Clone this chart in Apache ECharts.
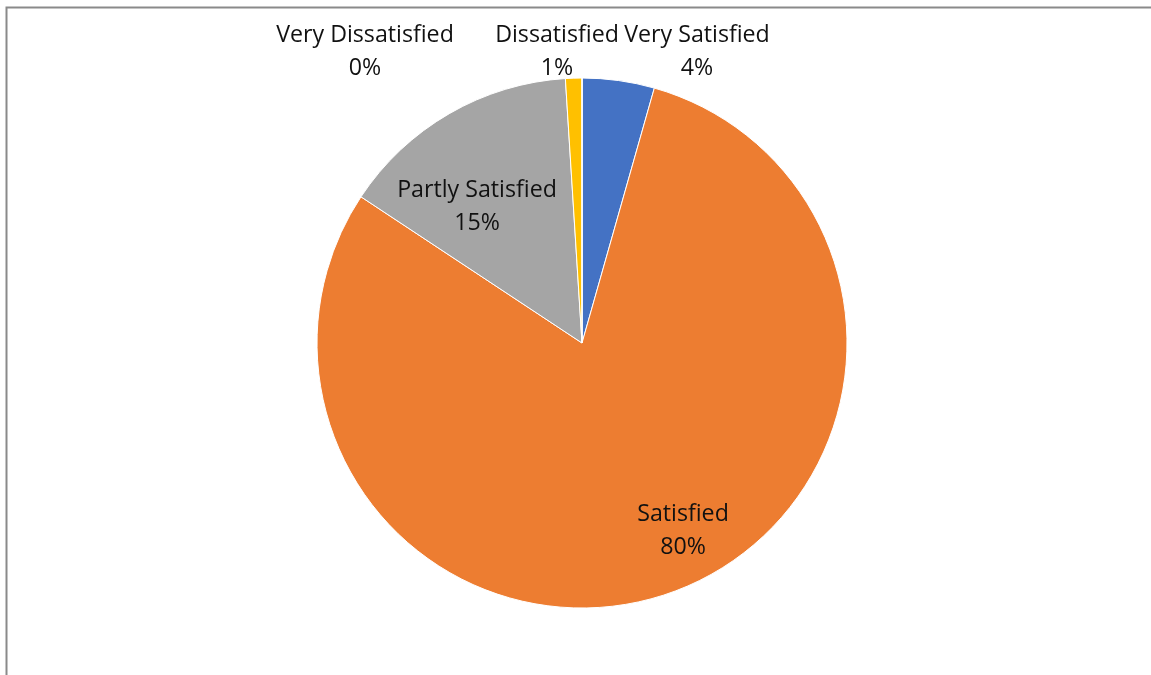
<!DOCTYPE html>
<html>
<head>
<meta charset="utf-8">
<script src="https://cdn.jsdelivr.net/npm/echarts@6/dist/echarts.min.js"></script>
<style>
html,body{margin:0;padding:0;background:#fff;}
#chart{width:1151px;height:675px;}
</style>
</head>
<body>
<div id="chart"></div>
<script>
// Data (percent of respondents)
const categories = ['Very Satisfied', 'Satisfied', 'Partly Satisfied', 'Dissatisfied', 'Very Dissatisfied'];
const values = [4.4, 79.9, 14.7, 1.0, 0];
const colors = ['#4472C4', '#ED7D31', '#A5A5A5', '#FFC000', '#5B9BD5'];

// Label anchor positions (layout, not data)
const labelPos = [[697, 52], [683, 531], [477, 207], [557, 52], [365, 52]];

const chart = echarts.init(document.getElementById('chart'));
chart.setOption({
  animation: false,
  graphic: [{
    type: 'rect',
    shape: { x: 6.5, y: 7.5, width: 1300, height: 800 },
    style: { fill: 'none', stroke: '#8a8a8a', lineWidth: 2 },
    silent: true
  }],
  series: [{
    type: 'pie',
    center: [582, 343],
    radius: 265,
    startAngle: 90,
    clockwise: true,
    percentPrecision: 0,
    avoidLabelOverlap: false,
    itemStyle: { borderColor: '#ffffff', borderWidth: 1 },
    label: {
      show: true,
      position: 'inside',
      formatter: '{b}\n{d}%',
      fontFamily: 'Open Sans',
      fontSize: 23.2,
      lineHeight: 33,
      color: '#111111',
      align: 'center'
    },
    labelLine: { show: false },
    labelLayout: function (p) {
      const pos = labelPos[p.dataIndex];
      return { x: pos[0], y: pos[1], align: 'center', verticalAlign: 'middle' };
    },
    data: categories.map((c, i) => ({ name: c, value: values[i], itemStyle: { color: colors[i] } }))
  }]
});
</script>
</body>
</html>
